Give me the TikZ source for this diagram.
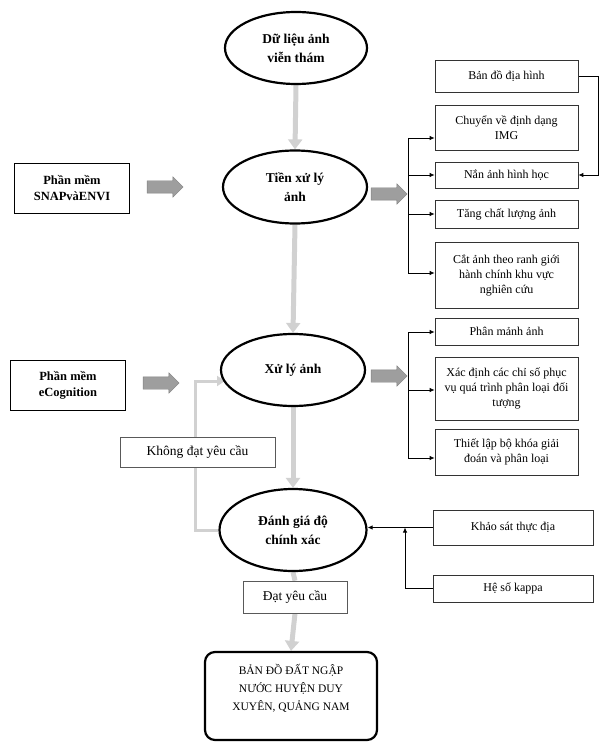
\documentclass[tikz,border=0pt]{standalone}
\usepackage{fontspec}
\setmainfont{Liberation Serif}
\usetikzlibrary{shapes.geometric,shapes.arrows,arrows.meta}
\pgfdeclarelayer{bg}
\pgfsetlayers{bg,main}
\begin{document}
\begin{tikzpicture}[x=1pt,y=-1pt,
 ell/.style={ellipse,draw,line width=2.2pt,fill=white,inner sep=0pt,font=\fontsize{13.5}{19}\selectfont\bfseries,align=center},
 swbox/.style={draw,line width=0.8pt,fill=white,font=\fontsize{12.5}{16}\selectfont\bfseries,align=center,inner sep=0pt,minimum width=115pt,minimum height=50pt},
 rbox/.style={draw=black!80,line width=0.7pt,fill=white,font=\fontsize{12}{15}\selectfont,align=center,inner sep=0pt,minimum width=143pt},
 lbl/.style={draw=black!65,line width=0.6pt,fill=white,font=\fontsize{13.5}{16}\selectfont,inner sep=0pt},
 conn/.style={line width=0.8pt,-{Latex[length=5pt,width=4.5pt]}},
 flow/.style={line width=5pt,draw=black!18,-{Triangle[length=10pt,width=14pt]}},
 flowline/.style={line width=5pt,draw=black!18},
 fbk/.style={line width=3pt,draw=black!18,-{Triangle[length=8pt,width=10pt]}},
 blk/.style={single arrow,fill=black!38,draw=black!50,line width=0.4pt,minimum height=36pt,inner xsep=0pt,inner ysep=6pt,single arrow head extend=4pt}
]
\useasboundingbox (0,0) rectangle (601,743);

% main flow ellipses
\node[ell,minimum width=142pt,minimum height=72pt] (e1) at (296,48) {Dữ liệu ảnh\\viễn thám};
\node[ell,minimum width=144pt,minimum height=73pt] (e2) at (295,187) {Tiền xử lý\\ảnh};
\node[ell,minimum width=144pt,minimum height=72pt] (e3) at (293,370) {Xử lý ảnh};
\node[ell,minimum width=147pt,minimum height=82pt] (e4) at (293,530) {Đánh giá độ\\chính xác};

% software boxes
\node[swbox] (sw1) at (72,188) {Phần mềm\\SNAPvàENVI};
\node[swbox] (sw2) at (68,385) {Phần mềm\\eCognition};

% block arrows
\node[blk] (b1) at (162,187) {};
\node[blk] (b2) at (386,194) {};
\node[blk] (b3) at (386,376) {};
\node[blk] (b4) at (158,383) {};

% right boxes
\node[rbox,minimum height=32pt] (r1) at (506.5,76) {Bản đồ địa hình};
\node[rbox,minimum height=45pt] (r2) at (506.5,127.5) {Chuyển về định dạng\\IMG};
\node[rbox,minimum height=26pt] (r3) at (506.5,175) {Nắn ảnh hình học};
\node[rbox,minimum height=28pt] (r4) at (506.5,214) {Tăng chất lượng ảnh};
\node[rbox,minimum height=66pt] (r5) at (506.5,275) {Cắt ảnh theo ranh giới\\hành chính khu vực\\nghiên cứu};
\node[rbox,minimum height=27pt] (r6) at (506.5,331.5) {Phân mảnh ảnh};
\node[rbox,minimum height=63pt] (r7) at (506.5,388.5) {Xác định các chỉ số phục\\vụ quá trình phân loại đối\\tượng};
\node[rbox,minimum height=46pt] (r8) at (506.5,452) {Thiết lập bộ khóa giải\\đoán và phân loại};
\node[rbox,minimum width=160pt,minimum height=35pt] (r9) at (513,527.5) {Khảo sát thực địa};
\node[rbox,minimum width=160pt,minimum height=27pt] (r10) at (513,588.5) {Hệ số kappa};

% labels
\node[lbl,minimum width=155pt,minimum height=30pt] (kd) at (197.5,452) {Không đạt yêu cầu};
\node[lbl,minimum width=104pt,minimum height=32pt] (dat) at (295,597) {Đạt yêu cầu};

% final box
\node[draw,line width=2.2pt,rounded corners=10pt,fill=white,minimum width=172pt,minimum height=88pt] (final) at (291,696) {};
\node[font=\fontsize{11.5}{18}\selectfont,align=center,inner sep=0pt] (finalt) at (291,688) {BẢN ĐỒ ĐẤT NGẬP\\NƯỚC HUYỆN DUY\\XUYÊN, QUẢNG NAM};

% coordinates
\coordinate (ta) at (408,138);
\coordinate (tb) at (408,175);
\coordinate (tc) at (408,214);
\coordinate (td) at (408,273);
\coordinate (xa) at (408,332);
\coordinate (xb) at (408,390);
\coordinate (xc) at (408,458);
\coordinate (bd1) at (598,76);
\coordinate (bd2) at (598,175);
\coordinate (kp) at (405,588.5);
\coordinate (fbc) at (195,381);
\coordinate (fbin) at (225,381);

\begin{pgfonlayer}{bg}
\draw[flow] (e1.south) -- (e2.north);
\draw[flow] (e2.south) -- (e3.north);
\draw[flow] (e3.south) -- (e4.north);
\draw[flowline] (e4.south) -- (dat.north);
\draw[flow] (dat.south) -- (final.north);
\draw[fbk] (e4.west) -| (fbc) -- (fbin);

\draw[line width=0.8pt] (ta) -- (td);
\draw[conn] (ta) -- (ta -| r2.west);
\draw[conn] (tb) -- (r3.west);
\draw[conn] (tc) -- (r4.west);
\draw[conn] (td) -- (td -| r5.west);
\draw[line width=0.8pt] (xa) -- (xc);
\draw[conn] (xa) -- (xa -| r6.west);
\draw[conn] (xb) -- (xb -| r7.west);
\draw[conn] (xc) -- (xc -| r8.west);
\draw[conn] (r1.east) -- (bd1) -- (bd2) -- (r3.east);
\draw[conn] (r9.west) -- (r9.west -| e4.east);
\draw[conn] (r10.west) -- (kp) -- (kp |- r9.west);
\end{pgfonlayer}
\end{tikzpicture}
\end{document}
